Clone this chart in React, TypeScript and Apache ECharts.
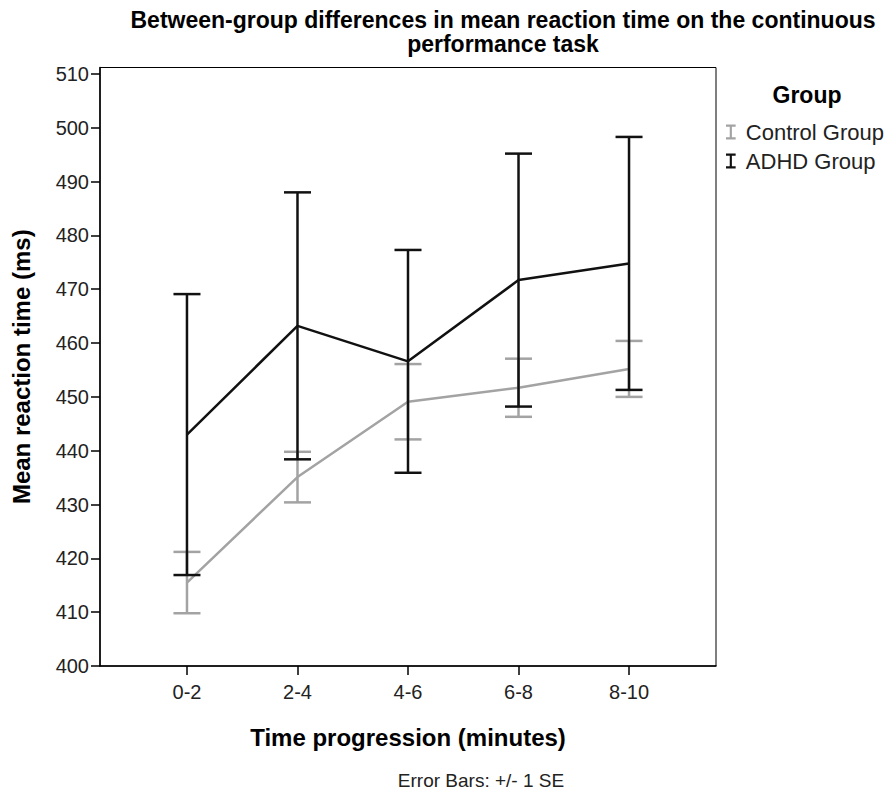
import React, { useEffect, useRef } from "react";
import * as echarts from "echarts";

const categories = ["0-2", "2-4", "4-6", "6-8", "8-10"];
const controlMean = [415.5, 435.1, 449.1, 451.7, 455.2];
const controlSE = [5.7, 4.7, 7.0, 5.4, 5.2];
const adhdMean = [443.0, 463.2, 456.6, 471.7, 474.8];
const adhdSE = [26.1, 24.8, 20.7, 23.5, 23.5];
const yTicks = [400, 410, 420, 430, 440, 450, 460, 470, 480, 490, 500, 510];

const FONT = "'Liberation Sans', Arial, Helvetica, sans-serif";
const GRAY = "#a3a3a3";
const BLACK = "#111111";
const ICON = "path://M0,0H9V2H5.5V12H9V14H0V12H3.5V2H0Z";

function errorSeries(name: string, means: number[], ses: number[], color: string, lw: number, z: number) {
  return {
    name,
    type: "custom",
    z,
    itemStyle: { color },
    data: means.map((m, i) => [i, m - ses[i], m + ses[i]]),
    renderItem: (params: any, api: any) => {
      const x = api.value(0);
      const lo = api.coord([x, api.value(1)]);
      const hi = api.coord([x, api.value(2)]);
      const hw = 13.5;
      const style = { stroke: color, lineWidth: lw };
      return {
        type: "group",
        children: [
          { type: "line", shape: { x1: hi[0], y1: hi[1], x2: lo[0], y2: lo[1] }, style },
          { type: "line", shape: { x1: hi[0] - hw, y1: hi[1], x2: hi[0] + hw, y2: hi[1] }, style },
          { type: "line", shape: { x1: lo[0] - hw, y1: lo[1], x2: lo[0] + hw, y2: lo[1] }, style },
        ],
      };
    },
  };
}

export default function App() {
  const ref = useRef<HTMLDivElement>(null);
  useEffect(() => {
    if (!ref.current) return;
    const chart = echarts.init(ref.current, null, { renderer: "svg" });
    chart.setOption({
      animation: false,
      backgroundColor: "#ffffff",
      textStyle: { fontFamily: FONT },
      title: [
        {
          text: "Between-group differences in mean reaction time on the continuous",
          left: 498,
          top: 3,
          textAlign: "center",
          textStyle: { fontFamily: FONT, fontSize: 23, fontWeight: "bold", color: "#000", lineHeight: 23 },
        },
        {
          text: "performance task",
          left: 498,
          top: 27,
          textAlign: "center",
          textStyle: { fontFamily: FONT, fontSize: 23, fontWeight: "bold", color: "#000", lineHeight: 23 },
        },
        {
          text: "Group",
          left: 802,
          top: 78,
          textAlign: "center",
          textStyle: { fontFamily: FONT, fontSize: 23, fontWeight: "bold", color: "#000" },
        },
        {
          text: "Error Bars: +/- 1 SE",
          left: 476,
          top: 766,
          textAlign: "center",
          textStyle: { fontFamily: FONT, fontSize: 19, fontWeight: "normal", color: "#222" },
        },
      ],
      legend: {
        orient: "vertical",
        left: 721,
        top: 116,
        itemWidth: 20,
        itemHeight: 15,
        itemGap: 7,
        symbolKeepAspect: true,
        textStyle: { fontFamily: FONT, fontSize: 22, color: "#222" },
        data: [
          { name: "Control Group", icon: ICON, itemStyle: { color: GRAY } },
          { name: "ADHD Group", icon: ICON, itemStyle: { color: BLACK } },
        ],
      },
      grid: {
        left: 100,
        right: 172,
        top: 67.5,
        bottom: 128,
        show: true,
        borderColor: "#000",
        borderWidth: 1,
        backgroundColor: "#ffffff",
      },
      xAxis: {
        type: "value",
        min: -0.787,
        max: 4.787,
        name: "Time progression (minutes)",
        nameLocation: "middle",
        nameGap: 59,
        nameTextStyle: { fontFamily: FONT, fontSize: 24, fontWeight: "bold", color: "#000" },
        axisLine: { show: true, onZero: false, lineStyle: { color: "#000", width: 1.5 } },
        axisTick: { show: true, length: 9, customValues: [0, 1, 2, 3, 4], lineStyle: { color: "#000", width: 1.5 } },
        axisLabel: {
          customValues: [0, 1, 2, 3, 4],
          formatter: (v: number) => categories[Math.round(v)] ?? "",
          fontFamily: FONT,
          fontSize: 20,
          color: "#222",
          margin: 16,
        },
        splitLine: { show: false },
      },
      yAxis: {
        type: "value",
        min: 400,
        max: 511.2,
        name: "Mean reaction time (ms)",
        nameLocation: "middle",
        nameGap: 67,
        nameTextStyle: { fontFamily: FONT, fontSize: 24, fontWeight: "bold", color: "#000" },
        axisLine: { show: true, onZero: false, lineStyle: { color: "#000", width: 1.5 } },
        axisTick: { show: true, length: 9, customValues: yTicks, lineStyle: { color: "#000", width: 1.5 } },
        axisLabel: {
          customValues: yTicks,
          fontFamily: FONT,
          fontSize: 20,
          color: "#222",
          margin: 11,
        },
        splitLine: { show: false },
      },
      series: [
        {
          name: "Control Group",
          type: "line",
          z: 2,
          symbol: "none",
          color: GRAY,
          lineStyle: { color: GRAY, width: 2.5 },
          data: controlMean.map((m, i) => [i, m]),
        },
        errorSeries("Control Group", controlMean, controlSE, GRAY, 2.5, 3),
        {
          name: "ADHD Group",
          type: "line",
          z: 4,
          symbol: "none",
          color: BLACK,
          lineStyle: { color: BLACK, width: 2.5 },
          data: adhdMean.map((m, i) => [i, m]),
        },
        errorSeries("ADHD Group", adhdMean, adhdSE, BLACK, 2.5, 5),
      ],
    });
    return () => chart.dispose();
  }, []);
  return <div ref={ref} style={{ width: 888, height: 794, position: "absolute", left: 0, top: 0 }} />;
}
